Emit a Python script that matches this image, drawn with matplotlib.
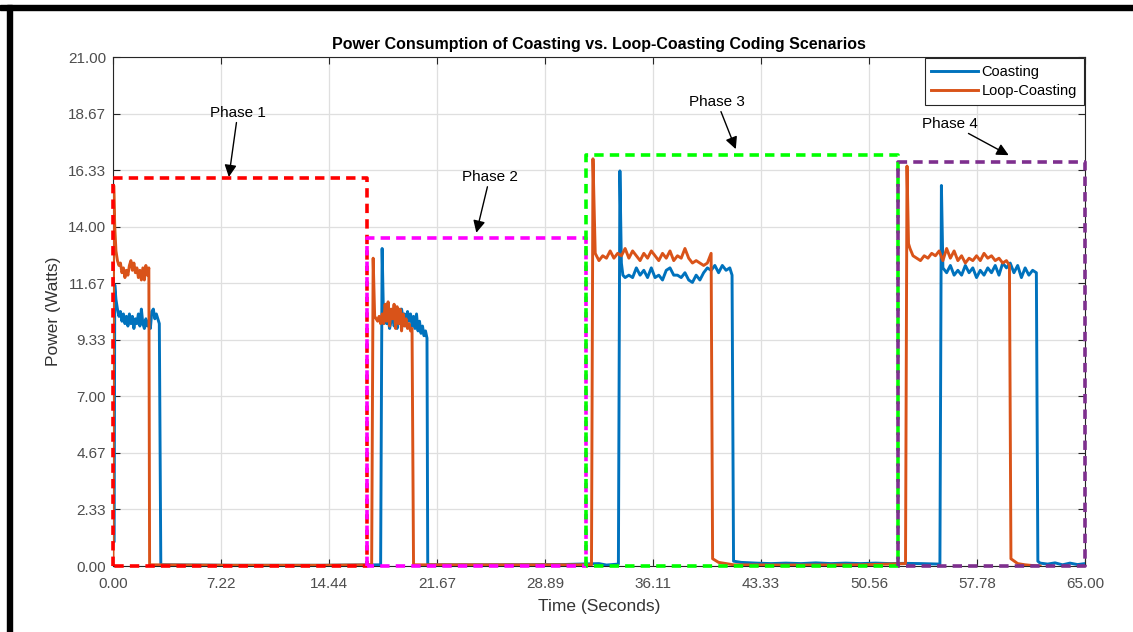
import numpy as np
import matplotlib
matplotlib.use('Agg')
from matplotlib import pyplot as plt
from matplotlib.patches import Rectangle

plt.rcParams['font.family'] = ['Liberation Sans', 'DejaVu Sans']

# Coasting (blue) - time in seconds, power in watts
coasting_time = [
    # phase 1
    0.0, 0.08, 0.12, 0.2, 0.3, 0.4, 0.5, 0.6, 0.7, 0.8, 0.9, 1.0, 1.1, 1.2, 1.3, 1.4, 1.5,
    1.6, 1.7, 1.8, 1.9, 2.0, 2.1, 2.2, 2.3, 2.4, 2.5, 2.6, 2.7, 2.8, 2.9, 3.0, 3.1, 3.2,
    8.0, 14.0, 17.9,
    # phase 2
    18.0, 18.1, 18.2, 18.3, 18.4, 18.5, 18.6, 18.7, 18.8, 18.9, 19.0, 19.1, 19.2, 19.3,
    19.4, 19.5, 19.6, 19.7, 19.8, 19.9, 20.0, 20.1, 20.2, 20.3, 20.4, 20.5, 20.6, 20.7,
    20.8, 20.9, 21.0, 21.05, 25.0, 30.0, 32.5, 33.0, 33.8,
    # phase 3
    33.9, 34.0, 34.1, 34.25, 34.5, 34.75, 35.0, 35.25, 35.5, 35.75, 36.0, 36.25, 36.5,
    36.75, 37.0, 37.25, 37.5, 37.75, 38.0, 38.25, 38.5, 38.75, 39.0, 39.25, 39.5, 39.75,
    40.0, 40.25, 40.5, 40.75, 41.0, 41.25, 41.4, 41.5, 42.0, 43.0, 44.0, 45.0, 46.0,
    47.0, 48.0, 49.0, 50.0, 51.0, 52.0, 53.0, 54.0, 55.3,
    # phase 4
    55.4, 55.5, 55.75, 56.0, 56.25, 56.5, 56.75, 57.0, 57.25, 57.5, 57.75, 58.0, 58.25,
    58.5, 58.75, 59.0, 59.25, 59.5, 59.75, 60.0, 60.25, 60.5, 60.75, 61.0, 61.25, 61.5,
    61.75, 61.85, 62.0, 62.5, 63.0, 63.5, 64.0, 64.5, 65.0,
]
coasting_power = [
    1.0, 1.0, 11.6, 11.0, 10.6, 10.3, 10.5, 10.1, 10.4, 10.0, 10.3, 9.9, 10.4, 10.0, 10.3,
    9.8, 10.2, 10.0, 10.4, 9.9, 10.6, 10.0, 9.8, 10.2, 9.9, 10.1, 9.8, 10.5, 10.6, 10.2,
    10.4, 10.2, 10.0, 0.05,
    0.03, 0.03, 0.05,
    13.1, 10.0, 10.3, 10.0, 10.2, 9.8, 10.1, 10.3, 9.9, 10.2, 9.8, 10.4, 10.0, 10.6,
    10.2, 10.4, 9.9, 10.5, 10.1, 10.4, 9.9, 10.3, 9.8, 10.4, 9.7, 10.1, 9.6, 9.9,
    9.5, 9.7, 9.4, 0.05, 0.05, 0.06, 0.1, 0.04, 0.08,
    16.3, 12.5, 12.0, 11.9, 12.0, 11.9, 12.3, 12.0, 12.2, 11.9, 12.3, 11.9, 12.0,
    11.8, 12.2, 12.3, 12.0, 12.0, 11.9, 12.1, 11.8, 11.7, 12.0, 11.8, 12.1, 12.3,
    12.2, 12.4, 12.1, 12.4, 12.2, 12.3, 12.0, 0.2, 0.15, 0.12, 0.1, 0.12, 0.1,
    0.13, 0.1, 0.12, 0.1, 0.12, 0.1, 0.11, 0.1, 0.08,
    15.7, 12.3, 12.1, 12.4, 12.0, 12.2, 12.0, 12.4, 12.1, 12.3, 11.9, 12.2, 12.0,
    12.3, 12.1, 12.4, 12.0, 12.5, 12.3, 12.5, 12.1, 12.4, 11.9, 12.3, 12.0, 12.2,
    12.1, 0.2, 0.12, 0.08, 0.13, 0.05, 0.12, 0.06, 0.1,
]

# Loop-Coasting (orange)
loop_time = [
    # phase 1
    0.0, 0.05, 0.12, 0.2, 0.3, 0.4, 0.5, 0.6, 0.7, 0.8, 0.9, 1.0, 1.1, 1.2, 1.3, 1.4,
    1.5, 1.6, 1.7, 1.8, 1.9, 2.0, 2.1, 2.2, 2.3, 2.4, 2.45, 8.0, 14.0, 17.3,
    # phase 2
    17.4, 17.5, 17.6, 17.7, 17.8, 17.9, 18.0, 18.1, 18.2, 18.3, 18.4, 18.5, 18.6, 18.7,
    18.8, 18.9, 19.0, 19.1, 19.2, 19.3, 19.4, 19.5, 19.6, 19.7, 19.8, 19.9, 20.0, 20.1,
    25.0, 30.0, 32.0,
    # phase 3
    32.1, 32.25, 32.5, 32.75, 33.0, 33.25, 33.5, 33.75, 34.0, 34.25, 34.5, 34.75, 35.0,
    35.25, 35.5, 35.75, 36.0, 36.25, 36.5, 36.75, 37.0, 37.25, 37.5, 37.75, 38.0, 38.25,
    38.5, 38.75, 39.0, 39.25, 39.5, 39.75, 40.0, 40.1, 40.5, 41.0, 41.5, 45.0, 50.0, 53.0,
    # phase 4
    53.1, 53.2, 53.3, 53.5, 53.75, 54.0, 54.25, 54.5, 54.75, 55.0, 55.25, 55.5, 55.75,
    56.0, 56.25, 56.5, 56.75, 57.0, 57.25, 57.5, 57.75, 58.0, 58.25, 58.5, 58.75, 59.0,
    59.25, 59.5, 59.75, 59.95, 60.05, 60.5, 61.0, 61.5, 62.0,
]
loop_power = [
    0.0, 15.7, 14.0, 13.0, 12.6, 12.4, 12.5, 12.1, 12.3, 11.9, 12.2, 12.0, 12.4, 12.6,
    12.2, 12.5, 12.1, 12.3, 11.9, 12.2, 11.8, 12.3, 11.8, 12.4, 12.0, 12.3, 0.05, 0.03,
    0.03, 0.05,
    12.7, 10.3, 10.2, 10.1, 10.3, 10.0, 10.4, 10.0, 10.8, 10.1, 10.9, 9.9, 10.6, 10.2,
    10.8, 9.8, 10.7, 10.0, 10.6, 9.7, 10.4, 9.9, 10.2, 9.8, 10.0, 9.7, 9.8, 0.05,
    0.05, 0.05, 0.05,
    16.8, 12.9, 12.6, 12.8, 12.7, 13.0, 12.7, 12.9, 12.8, 13.1, 12.7, 13.0, 12.8,
    12.6, 12.9, 12.7, 13.0, 12.8, 12.6, 12.9, 12.7, 13.0, 12.6, 12.8, 12.7, 13.1,
    12.7, 12.5, 12.6, 12.5, 12.4, 12.5, 12.9, 0.3, 0.15, 0.1, 0.05, 0.04, 0.05, 0.1,
    16.5, 13.3, 13.1, 12.8, 12.7, 12.6, 12.8, 12.7, 12.9, 12.8, 13.0, 12.6, 13.1,
    12.7, 13.0, 12.6, 12.8, 12.5, 12.7, 12.6, 12.8, 12.6, 12.9, 12.7, 12.8, 12.6,
    12.7, 12.5, 12.6, 12.4, 0.3, 0.1, 0.05, 0.02, 0.0,
]

# phase boxes
phase_names = ['Phase 1', 'Phase 2', 'Phase 3', 'Phase 4']
phase_start = [0.0, 17.0, 31.6, 52.5]
phase_end = [17.0, 31.6, 52.5, 65.0]
phase_top = [16.0, 13.55, 16.97, 16.68]
phase_colors = ['#FF0000', '#FF00FF', '#00FF00', '#7E2F8E']

xticks = np.linspace(0, 65, 10)
yticks = np.linspace(0, 21, 10)

fig = plt.figure(figsize=(11.33, 6.32), dpi=100)
ax = fig.add_axes([0.0997, 0.1044, 0.8579, 0.8054])

ax.plot(coasting_time, coasting_power, color='#0072BD', lw=2.1, label='Coasting', zorder=3)
ax.plot(loop_time, loop_power, color='#D95319', lw=2.1, label='Loop-Coasting', zorder=3)

for x0, x1, top, c in zip(phase_start, phase_end, phase_top, phase_colors):
    ax.plot([x0, x0, x1, x1, x0], [0, top, top, 0, 0], color=c, lw=2.6,
            dashes=(2.6, 1.7), zorder=4, clip_on=False)

arrow = dict(arrowstyle='-|>', color='black', lw=1, mutation_scale=18, shrinkA=0, shrinkB=0)
ax.annotate(phase_names[0], xy=(7.75, 16.05), xytext=(8.35, 18.7), fontsize=11,
            ha='center', va='center', arrowprops=arrow)
ax.annotate(phase_names[1], xy=(24.3, 13.75), xytext=(25.2, 16.05), fontsize=11,
            ha='center', va='center', arrowprops=arrow)
ax.annotate(phase_names[2], xy=(41.65, 17.2), xytext=(40.4, 19.15), fontsize=11,
            ha='center', va='center', arrowprops=arrow)
ax.annotate(phase_names[3], xy=(59.9, 16.95), xytext=(56.0, 18.25), fontsize=11,
            ha='center', va='center', arrowprops=arrow)

ax.set_xlim(0, 65)
ax.set_ylim(0, 21)
ax.set_xticks(xticks)
ax.set_yticks(yticks)
ax.set_xticklabels(['%.2f' % v for v in xticks])
ax.set_yticklabels(['%.2f' % v for v in yticks])
ax.tick_params(direction='in', top=True, right=True, labelsize=11, colors='#262626',
               labelcolor='#4D4D4D', length=5, width=0.8)
ax.tick_params(axis='x', pad=8)
ax.tick_params(axis='y', pad=5)
ax.grid(color='#DFDFDF', lw=0.9)
ax.set_axisbelow(True)
for s in ax.spines.values():
    s.set_color('#262626')
    s.set_linewidth(0.8)

ax.set_title('Power Consumption of Coasting vs. Loop-Coasting Coding Scenarios',
             fontsize=11.5, fontweight='bold', pad=6)
ax.set_xlabel('Time (Seconds)', fontsize=12.5, color='#333333', labelpad=6)
ax.set_ylabel('Power (Watts)', fontsize=12.5, color='#333333', labelpad=5)

leg = ax.legend(loc='upper right', fontsize=10.5, handlelength=3.2, borderaxespad=0.1,
                fancybox=False, framealpha=1, edgecolor='#262626', borderpad=0.45,
                labelspacing=0.35, handletextpad=0.25)
leg.get_frame().set_linewidth(0.8)

# black frame of the original screenshot
fig.patches.append(Rectangle((0, 1 - 10 / 632), 1, 5 / 632, transform=fig.transFigure,
                             color='black', zorder=10))
fig.patches.append(Rectangle((7 / 1133, 0), 5 / 1133, 1 - 5 / 632,
                             transform=fig.transFigure, color='black', zorder=10))

fig.savefig('out.png', dpi=100)
